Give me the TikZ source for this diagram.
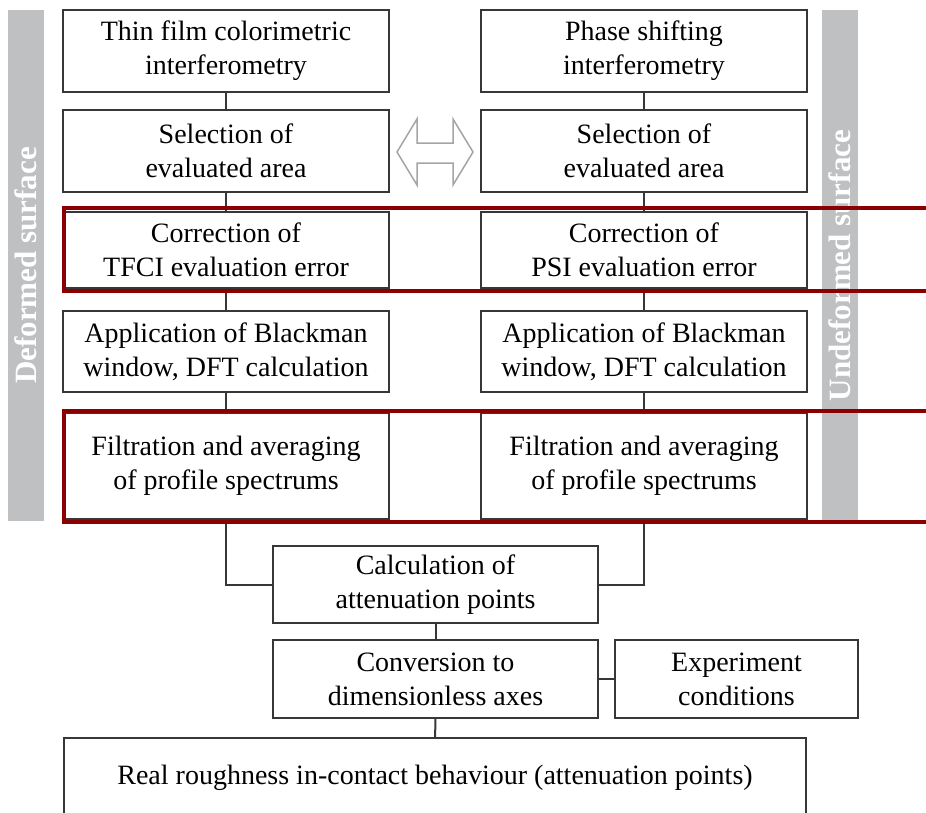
\documentclass[tikz,border=0pt]{standalone}
\usepackage{fontspec}
\setmainfont{Liberation Serif}
\usepackage{tikz}
\pgfdeclarelayer{bg}
\pgfsetlayers{bg,main}
\definecolor{boxline}{RGB}{55,55,55}
\definecolor{framered}{RGB}{140,0,0}
\definecolor{bargray}{RGB}{190,192,194}
\definecolor{arrowgray}{RGB}{165,165,165}

\begin{document}
\begin{tikzpicture}[x=1pt, y=-1pt,
    stepbox/.style={draw=boxline, line width=2pt, fill=white, align=center,
      inner sep=0pt, minimum width=326pt, minimum height=82pt,
      font=\fontsize{28}{34}\selectfont},
    sidebar/.style={fill=bargray, text=white, rotate=90, inner sep=0pt,
      minimum width=511pt, minimum height=36pt,
      font=\fontsize{31}{34}\selectfont\bfseries},
    redframe/.style={draw=framered, line width=4pt},
    link/.style={draw=boxline, line width=2pt}]
  \useasboundingbox (0,0) rectangle (926,812);
  \clip (0,0) rectangle (926,812);

  \node (defbar) [sidebar] at (26,265.5) {Deformed surface};
  \node (undefbar) [sidebar] at (839.5,265.5) {Undeformed surface};

    \node (tfci) [stepbox] at (226,51) {Thin film colorimetric\\interferometry};
    \node (selL) [stepbox] at (226,151) {Selection of\\evaluated area};
    \node (corrL) [stepbox, minimum height=76pt] at (226,250) {Correction of\\TFCI evaluation error};
    \node (dftL) [stepbox, minimum height=81pt] at (226,351.5) {Application of Blackman\\window, DFT calculation};
    \node (filtL) [stepbox, minimum height=106pt] at (226,466) {Filtration and averaging\\of profile spectrums};

    \node (psi) [stepbox] at (644,51) {Phase shifting\\interferometry};
    \node (selR) [stepbox] at (644,151) {Selection of\\evaluated area};
    \node (corrR) [stepbox, minimum height=76pt] at (644,250) {Correction of\\PSI evaluation error};
    \node (dftR) [stepbox, minimum height=81pt] at (644,351.5) {Application of Blackman\\window, DFT calculation};
    \node (filtR) [stepbox, minimum height=106pt] at (644,466) {Filtration and averaging\\of profile spectrums};

  \node (calc) [stepbox, minimum width=325pt, minimum height=77pt] at (435.5,584.5) {Calculation of\\attenuation points};
  \node (conv) [stepbox, minimum width=325pt, minimum height=78pt] at (435.5,679) {Conversion to\\dimensionless axes};
  \node (expc) [stepbox, minimum width=243pt, minimum height=78pt] at (736.5,679) {Experiment\\conditions};
  \node (real) [stepbox, minimum width=742pt, minimum height=80pt] at (435,778) {Real roughness in-contact behaviour (attenuation points)};

  \draw [draw=arrowgray, line width=1.5pt, fill=white, line join=miter]
    (397,152) -- (417,119) -- (417,143) -- (453,143) -- (453,119) -- (473,152)
    -- (453,185) -- (453,163) -- (417,163) -- (417,185) -- cycle;

  \begin{pgfonlayer}{bg}
	  \draw [link] (tfci) edge (selL); \draw [link] (selL) edge (corrL);
	  \draw [link] (corrL) edge (dftL); \draw [link] (dftL) edge (filtL);

	  \draw [link] (psi) edge (selR); \draw [link] (selR) edge (corrR);
	  \draw [link] (corrR) edge (dftR); \draw [link] (dftR) edge (filtR);

	  \draw [link] (filtL) |- (calc); \draw [link] (filtR) |- (calc);
	  \draw [link] (calc) edge (conv); \draw [link] (conv) edge (expc);
	  \draw [link] (conv) edge (real);
  \end{pgfonlayer}

  \draw [redframe] (940,208) -- (64,208) -- (64,290.5) -- (940,290.5);
  \draw [redframe] (940,410.5) -- (64,410.5) -- (64,521.5) -- (940,521.5);
\end{tikzpicture}
\end{document}
